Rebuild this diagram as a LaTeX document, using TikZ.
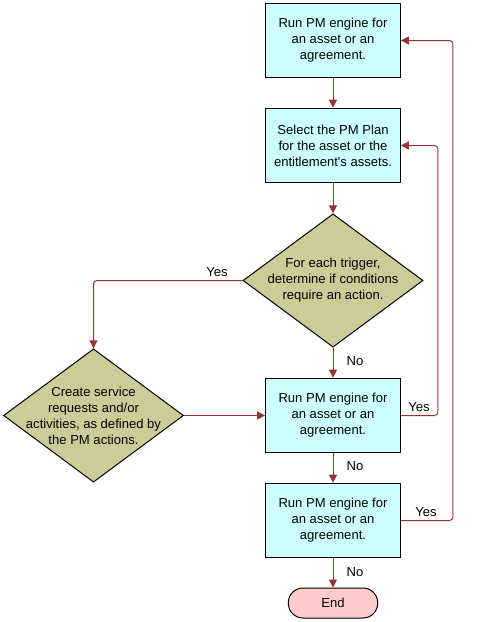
\documentclass[tikz,border=0pt]{standalone}
\usepackage{fontspec}
\setmainfont{Liberation Sans}
\usetikzlibrary{shapes.geometric,arrows.meta}
\definecolor{boxcyan}{HTML}{CCFFFF}
\definecolor{diamkhaki}{HTML}{CCCC99}
\definecolor{endpink}{HTML}{FFCCCC}
\definecolor{flowred}{HTML}{993333}
\begin{document}
\begin{tikzpicture}[
            x=0.75pt, y=-0.75pt,
            every node/.style = {align=center, font=\fontsize{9.8}{12}\selectfont},
            box/.style = {shape=rectangle, draw=black, line width=0.75pt, fill=boxcyan, minimum width=101pt, minimum height=56pt, inner sep=0pt},
            diam/.style = {shape=diamond, draw=black, line width=0.75pt, fill=diamkhaki, aspect=1.35, inner sep=-6pt, minimum width=135pt, minimum height=100pt},
            term/.style = {shape=rectangle, draw=black, line width=0.75pt, fill=endpink, rounded corners=11pt, minimum width=67pt, minimum height=22.5pt},
            flow/.style = {draw=flowred, line width=0.75pt, rounded corners=2.5pt, -{Triangle[width=6pt,length=6pt]}},
            lbl/.style = {inner sep=0pt}
          ]
          \useasboundingbox (0,0) rectangle (479,622);
          \node[box] (run1) at (333,40.5) {Run PM engine for\\an asset or an\\agreement.};
          \node[box] (plan) at (333,145.5) {Select the PM Plan\\for the asset or the\\entitlement\textquotesingle s assets.};
          \node[diam] (trig) at (333,280.5) {For each trigger,\\determine if conditions\\require an action.};
          \node[diam] (req) at (93.5,415.5) {Create service\\requests and/or\\activities, as defined by\\the PM actions.};
          \node[box] (run2) at (333,415.5) {Run PM engine for\\an asset or an\\agreement.};
          \node[box] (run3) at (333,520.5) {Run PM engine for\\an asset or an\\agreement.};
          \node[term] (end) at (333,603) {End};
          % connectors
          \draw[flow] (run1) -- (plan);
          \draw[flow] (plan) -- (trig);
          \draw[flow] (trig.west) -| (req.north);
          \draw[flow] (trig.south) -- (run2.north);
          \draw[flow] (req.east) -- (run2.west);
          \draw[flow] (run2.east) -- ++(37,0) |- (plan.east);
          \draw[flow] (run2) -- (run3);
          \draw[flow] (run3.east) -- ++(52,0) |- (run1.east);
          \draw[flow] (run3) -- (end);
          % labels
          \node[lbl] (yes1) at (217,272) {Yes};
          \node[lbl] (no1) at (355,361) {No};
          \node[lbl] (yes2) at (419,407) {Yes};
          \node[lbl] (no2) at (355,466) {No};
          \node[lbl] (yes3) at (426,512) {Yes};
          \node[lbl] (no3) at (355,572) {No};
        \end{tikzpicture}
\end{document}
